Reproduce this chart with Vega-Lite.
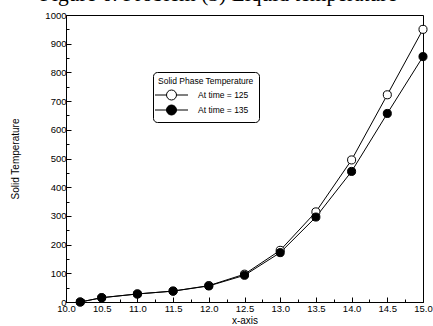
{
  "$schema": "https://vega.github.io/schema/vega-lite/v6.json",
  "width": 357,
  "height": 287,
  "autosize": {"type": "none"},
  "padding": {"left": 66, "top": 15, "right": 10, "bottom": 24},
  "background": "white",
  "title": {
    "text": "Figure 6. Problem (3) Liquid temperature",
    "font": "Liberation Serif",
    "fontSize": 21.5,
    "fontWeight": "normal",
    "color": "black",
    "anchor": "middle",
    "frame": "group",
    "baseline": "alphabetic",
    "offset": -12.5,
    "dx": -26
  },
  "config": {
    "view": {"stroke": "black", "strokeWidth": 1},
    "axis": {
      "grid": false,
      "domainColor": "black",
      "domainWidth": 1,
      "tickColor": "black",
      "tickWidth": 1,
      "labelColor": "black",
      "labelFont": "Liberation Sans",
      "labelFontSize": 9.5,
      "titleFont": "Liberation Sans",
      "titleFontSize": 10,
      "titleFontWeight": "normal",
      "titleColor": "black"
    }
  },
  "data": {
    "values": [
      {"x": 10.2, "temp": 0, "series": "At time = 125"},
      {"x": 10.5, "temp": 15, "series": "At time = 125"},
      {"x": 11.0, "temp": 28, "series": "At time = 125"},
      {"x": 11.5, "temp": 38, "series": "At time = 125"},
      {"x": 12.0, "temp": 57, "series": "At time = 125"},
      {"x": 12.5, "temp": 97, "series": "At time = 125"},
      {"x": 13.0, "temp": 180, "series": "At time = 125"},
      {"x": 13.5, "temp": 314, "series": "At time = 125"},
      {"x": 14.0, "temp": 495, "series": "At time = 125"},
      {"x": 14.5, "temp": 722, "series": "At time = 125"},
      {"x": 15.0, "temp": 950, "series": "At time = 125"},
      {"x": 10.2, "temp": 0, "series": "At time = 135"},
      {"x": 10.5, "temp": 15, "series": "At time = 135"},
      {"x": 11.0, "temp": 28, "series": "At time = 135"},
      {"x": 11.5, "temp": 38, "series": "At time = 135"},
      {"x": 12.0, "temp": 56, "series": "At time = 135"},
      {"x": 12.5, "temp": 93, "series": "At time = 135"},
      {"x": 13.0, "temp": 172, "series": "At time = 135"},
      {"x": 13.5, "temp": 296, "series": "At time = 135"},
      {"x": 14.0, "temp": 455, "series": "At time = 135"},
      {"x": 14.5, "temp": 657, "series": "At time = 135"},
      {"x": 15.0, "temp": 855, "series": "At time = 135"}
    ]
  },
  "encoding": {
    "x": {
      "field": "x",
      "type": "quantitative",
      "scale": {"domain": [10, 15], "nice": false, "zero": false},
      "axis": {
        "title": "x-axis",
        "values": [10, 10.25, 10.5, 10.75, 11, 11.25, 11.5, 11.75, 12, 12.25, 12.5, 12.75, 13, 13.25, 13.5, 13.75, 14, 14.25, 14.5, 14.75, 15],
        "labelExpr": "(datum.value * 2) % 1 == 0 ? format(datum.value, '.1f') : ''",
        "tickSize": {"condition": {"test": "(datum.value * 2) % 1 != 0", "value": -3}, "value": -5},
        "labelPadding": 6,
        "titlePadding": 1,
        "labelFlush": false,
        "labelOverlap": false
      }
    },
    "y": {
      "field": "temp",
      "type": "quantitative",
      "scale": {"domain": [0, 1000], "nice": false},
      "axis": {
        "title": "Solid Temperature",
        "values": [0, 50, 100, 150, 200, 250, 300, 350, 400, 450, 500, 550, 600, 650, 700, 750, 800, 850, 900, 950, 1000],
        "labelExpr": "datum.value % 100 == 0 ? format(datum.value, 'd') : ''",
        "tickSize": {"condition": {"test": "datum.value % 100 != 0", "value": -3}, "value": -5},
        "labelPadding": 5,
        "titlePadding": 24,
        "labelFlush": false,
        "labelOverlap": false
      }
    }
  },
  "layer": [
    {
      "mark": {"type": "line", "color": "black", "strokeWidth": 1},
      "encoding": {"detail": {"field": "series"}}
    },
    {
      "mark": {"type": "point", "shape": "circle", "filled": true, "size": 65, "stroke": "black", "strokeWidth": 1, "opacity": 1},
      "encoding": {
        "fill": {
          "field": "series",
          "type": "nominal",
          "scale": {"domain": ["At time = 125", "At time = 135"], "range": ["white", "black"]},
          "legend": {
            "orient": "none",
            "legendX": 87,
            "legendY": 57,
            "title": "Solid Phase Temperature",
            "titleFont": "Liberation Sans",
            "titleFontSize": 8.5,
            "titleFontWeight": "normal",
            "titleColor": "black",
            "labelFont": "Liberation Sans",
            "labelFontSize": 8.5,
            "labelColor": "black",
            "symbolType": "M-3.3,0L-1,0M1,0L3.3,0M1,0A1,1,0,1,1,-1,0A1,1,0,1,1,1,0",
            "symbolSize": 100,
            "symbolStrokeColor": "black",
            "symbolStrokeWidth": 1,
            "symbolOffset": 8,
            "labelOffset": 21,
            "padding": 5,
            "rowPadding": 0,
            "titlePadding": 4,
            "strokeColor": "black",
            "cornerRadius": 4,
            "fillColor": "white",
            "encode": {
              "symbols": {
                "update": {
                  "shape": {"value": "M-3.3,0L-1,0M1,0L3.3,0M1,0A1,1,0,1,1,-1,0A1,1,0,1,1,1,0"},
                  "stroke": {"value": "black"},
                  "strokeWidth": {"value": 1},
                  "opacity": {"value": 1}
                }
              }
            }
          }
        }
      }
    }
  ]
}
